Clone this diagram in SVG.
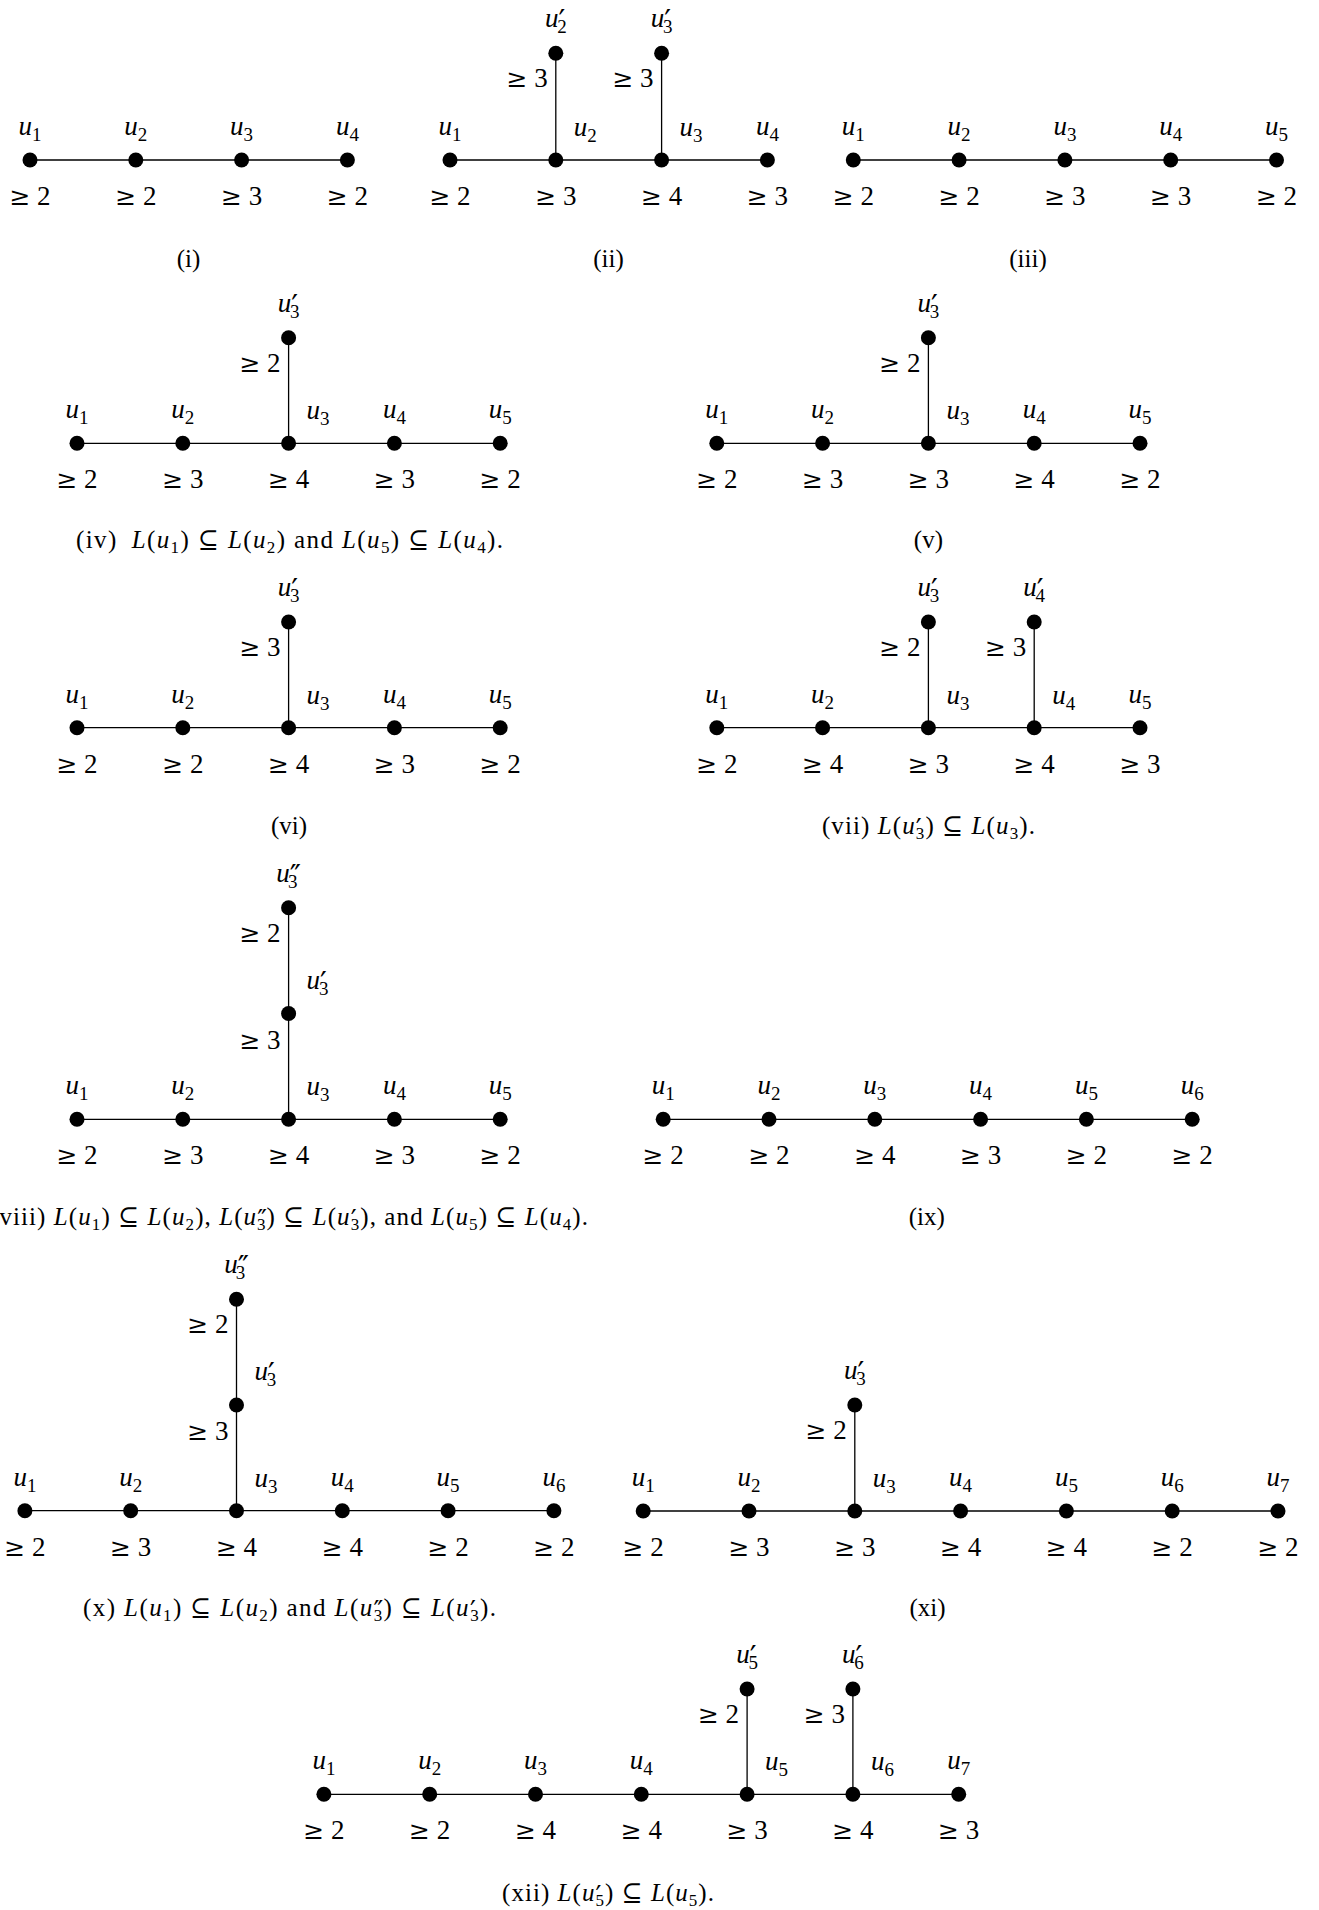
<svg xmlns="http://www.w3.org/2000/svg" width="1319" height="1910" viewBox="0 0 1319 1910">
<style>
.e{stroke:#000;stroke-width:1.3;fill:none}
circle{fill:#000}
text{font-family:"Liberation Serif","DejaVu Serif",serif;fill:#000}
.l{font-size:27px;text-anchor:middle}
.ls{font-size:27px;text-anchor:start}
.le{font-size:27px;text-anchor:end}
.g{font-family:"DejaVu Serif",serif;font-size:25px}
.i{font-style:italic}
.s{font-size:19px}
.p{font-family:"DejaVu Serif",serif;font-size:30px}
.c{font-size:25px;text-anchor:middle}
.cs{font-size:17px}
.cp{font-family:"DejaVu Serif",serif;font-size:26px}
</style>
<rect width="1319" height="1910" fill="#fff"/>
<g id="connectors">
<line class="e" x1="30" y1="160" x2="347.4" y2="160"/>
<line class="e" x1="450" y1="160" x2="767.4" y2="160"/>
<line class="e" x1="555.8" y1="53.3" x2="555.8" y2="160"/>
<line class="e" x1="661.6" y1="53.3" x2="661.6" y2="160"/>
<line class="e" x1="853.3" y1="160" x2="1276.5" y2="160"/>
<line class="e" x1="77" y1="443.3" x2="500.2" y2="443.3"/>
<line class="e" x1="288.6" y1="337.7" x2="288.6" y2="443.3"/>
<line class="e" x1="716.8" y1="443.3" x2="1140" y2="443.3"/>
<line class="e" x1="928.4" y1="337.7" x2="928.4" y2="443.3"/>
<line class="e" x1="77" y1="727.7" x2="500.2" y2="727.7"/>
<line class="e" x1="288.6" y1="622" x2="288.6" y2="727.7"/>
<line class="e" x1="716.8" y1="727.7" x2="1140" y2="727.7"/>
<line class="e" x1="928.4" y1="622" x2="928.4" y2="727.7"/>
<line class="e" x1="1034.2" y1="622" x2="1034.2" y2="727.7"/>
<line class="e" x1="77" y1="1119.3" x2="500.2" y2="1119.3"/>
<line class="e" x1="288.6" y1="907.7" x2="288.6" y2="1119.3"/>
<line class="e" x1="663.2" y1="1119.3" x2="1192.2" y2="1119.3"/>
<line class="e" x1="24.9" y1="1510.7" x2="553.9" y2="1510.7"/>
<line class="e" x1="236.5" y1="1299.3" x2="236.5" y2="1510.7"/>
<line class="e" x1="643.2" y1="1511" x2="1278" y2="1511"/>
<line class="e" x1="854.8" y1="1405" x2="854.8" y2="1511"/>
<line class="e" x1="323.9" y1="1794.3" x2="958.7" y2="1794.3"/>
<line class="e" x1="747.1" y1="1689" x2="747.1" y2="1794.3"/>
<line class="e" x1="852.9" y1="1689" x2="852.9" y2="1794.3"/>
</g>

<g id="i-u1"><circle cx="30" cy="160" r="7.5"/><text class="l" x="30" y="135"><tspan class="i">u</tspan><tspan class="s" dy="6">1</tspan></text><text class="l" x="30" y="205"><tspan class="g">≥</tspan> 2</text></g>
<g id="i-u2"><circle cx="135.8" cy="160" r="7.5"/><text class="l" x="135.8" y="135"><tspan class="i">u</tspan><tspan class="s" dy="6">2</tspan></text><text class="l" x="135.8" y="205"><tspan class="g">≥</tspan> 2</text></g>
<g id="i-u3"><circle cx="241.6" cy="160" r="7.5"/><text class="l" x="241.6" y="135"><tspan class="i">u</tspan><tspan class="s" dy="6">3</tspan></text><text class="l" x="241.6" y="205"><tspan class="g">≥</tspan> 3</text></g>
<g id="i-u4"><circle cx="347.4" cy="160" r="7.5"/><text class="l" x="347.4" y="135"><tspan class="i">u</tspan><tspan class="s" dy="6">4</tspan></text><text class="l" x="347.4" y="205"><tspan class="g">≥</tspan> 2</text></g>

<g id="ii-u1"><circle cx="450" cy="160" r="7.5"/><text class="l" x="450" y="135"><tspan class="i">u</tspan><tspan class="s" dy="6">1</tspan></text><text class="l" x="450" y="205"><tspan class="g">≥</tspan> 2</text></g>
<g id="ii-u2"><circle cx="555.8" cy="160" r="7.5"/><text class="ls" x="573.8" y="136"><tspan class="i">u</tspan><tspan class="s" dy="6">2</tspan></text><text class="l" x="555.8" y="205"><tspan class="g">≥</tspan> 3</text></g>
<g id="ii-u3"><circle cx="661.6" cy="160" r="7.5"/><text class="ls" x="679.6" y="136"><tspan class="i">u</tspan><tspan class="s" dy="6">3</tspan></text><text class="l" x="661.6" y="205"><tspan class="g">≥</tspan> 4</text></g>
<g id="ii-u4"><circle cx="767.4" cy="160" r="7.5"/><text class="l" x="767.4" y="135"><tspan class="i">u</tspan><tspan class="s" dy="6">4</tspan></text><text class="l" x="767.4" y="205"><tspan class="g">≥</tspan> 3</text></g>
<g id="ii-u2p"><circle cx="555.8" cy="53.3" r="7.5"/><text class="l" x="555.8" y="27.3"><tspan class="i">u</tspan><tspan class="p" dy="4">′</tspan><tspan class="s" dx="-8" dy="2">2</tspan></text><text class="le" x="547.8" y="87.3"><tspan class="g">≥</tspan> 3</text></g>
<g id="ii-u3p"><circle cx="661.6" cy="53.3" r="7.5"/><text class="l" x="661.6" y="27.3"><tspan class="i">u</tspan><tspan class="p" dy="4">′</tspan><tspan class="s" dx="-8" dy="2">3</tspan></text><text class="le" x="653.6" y="87.3"><tspan class="g">≥</tspan> 3</text></g>

<g id="iii-u1"><circle cx="853.3" cy="160" r="7.5"/><text class="l" x="853.3" y="135"><tspan class="i">u</tspan><tspan class="s" dy="6">1</tspan></text><text class="l" x="853.3" y="205"><tspan class="g">≥</tspan> 2</text></g>
<g id="iii-u2"><circle cx="959.1" cy="160" r="7.5"/><text class="l" x="959.1" y="135"><tspan class="i">u</tspan><tspan class="s" dy="6">2</tspan></text><text class="l" x="959.1" y="205"><tspan class="g">≥</tspan> 2</text></g>
<g id="iii-u3"><circle cx="1064.9" cy="160" r="7.5"/><text class="l" x="1064.9" y="135"><tspan class="i">u</tspan><tspan class="s" dy="6">3</tspan></text><text class="l" x="1064.9" y="205"><tspan class="g">≥</tspan> 3</text></g>
<g id="iii-u4"><circle cx="1170.7" cy="160" r="7.5"/><text class="l" x="1170.7" y="135"><tspan class="i">u</tspan><tspan class="s" dy="6">4</tspan></text><text class="l" x="1170.7" y="205"><tspan class="g">≥</tspan> 3</text></g>
<g id="iii-u5"><circle cx="1276.5" cy="160" r="7.5"/><text class="l" x="1276.5" y="135"><tspan class="i">u</tspan><tspan class="s" dy="6">5</tspan></text><text class="l" x="1276.5" y="205"><tspan class="g">≥</tspan> 2</text></g>

<g id="iv-u1"><circle cx="77" cy="443.3" r="7.5"/><text class="l" x="77" y="418.3"><tspan class="i">u</tspan><tspan class="s" dy="6">1</tspan></text><text class="l" x="77" y="488.3"><tspan class="g">≥</tspan> 2</text></g>
<g id="iv-u2"><circle cx="182.8" cy="443.3" r="7.5"/><text class="l" x="182.8" y="418.3"><tspan class="i">u</tspan><tspan class="s" dy="6">2</tspan></text><text class="l" x="182.8" y="488.3"><tspan class="g">≥</tspan> 3</text></g>
<g id="iv-u3"><circle cx="288.6" cy="443.3" r="7.5"/><text class="ls" x="306.6" y="419.3"><tspan class="i">u</tspan><tspan class="s" dy="6">3</tspan></text><text class="l" x="288.6" y="488.3"><tspan class="g">≥</tspan> 4</text></g>
<g id="iv-u4"><circle cx="394.4" cy="443.3" r="7.5"/><text class="l" x="394.4" y="418.3"><tspan class="i">u</tspan><tspan class="s" dy="6">4</tspan></text><text class="l" x="394.4" y="488.3"><tspan class="g">≥</tspan> 3</text></g>
<g id="iv-u5"><circle cx="500.2" cy="443.3" r="7.5"/><text class="l" x="500.2" y="418.3"><tspan class="i">u</tspan><tspan class="s" dy="6">5</tspan></text><text class="l" x="500.2" y="488.3"><tspan class="g">≥</tspan> 2</text></g>
<g id="iv-u3p"><circle cx="288.6" cy="337.7" r="7.5"/><text class="l" x="288.6" y="311.7"><tspan class="i">u</tspan><tspan class="p" dy="4">′</tspan><tspan class="s" dx="-8" dy="2">3</tspan></text><text class="le" x="280.6" y="371.7"><tspan class="g">≥</tspan> 2</text></g>

<g id="v-u1"><circle cx="716.8" cy="443.3" r="7.5"/><text class="l" x="716.8" y="418.3"><tspan class="i">u</tspan><tspan class="s" dy="6">1</tspan></text><text class="l" x="716.8" y="488.3"><tspan class="g">≥</tspan> 2</text></g>
<g id="v-u2"><circle cx="822.6" cy="443.3" r="7.5"/><text class="l" x="822.6" y="418.3"><tspan class="i">u</tspan><tspan class="s" dy="6">2</tspan></text><text class="l" x="822.6" y="488.3"><tspan class="g">≥</tspan> 3</text></g>
<g id="v-u3"><circle cx="928.4" cy="443.3" r="7.5"/><text class="ls" x="946.4" y="419.3"><tspan class="i">u</tspan><tspan class="s" dy="6">3</tspan></text><text class="l" x="928.4" y="488.3"><tspan class="g">≥</tspan> 3</text></g>
<g id="v-u4"><circle cx="1034.2" cy="443.3" r="7.5"/><text class="l" x="1034.2" y="418.3"><tspan class="i">u</tspan><tspan class="s" dy="6">4</tspan></text><text class="l" x="1034.2" y="488.3"><tspan class="g">≥</tspan> 4</text></g>
<g id="v-u5"><circle cx="1140" cy="443.3" r="7.5"/><text class="l" x="1140" y="418.3"><tspan class="i">u</tspan><tspan class="s" dy="6">5</tspan></text><text class="l" x="1140" y="488.3"><tspan class="g">≥</tspan> 2</text></g>
<g id="v-u3p"><circle cx="928.4" cy="337.7" r="7.5"/><text class="l" x="928.4" y="311.7"><tspan class="i">u</tspan><tspan class="p" dy="4">′</tspan><tspan class="s" dx="-8" dy="2">3</tspan></text><text class="le" x="920.4" y="371.7"><tspan class="g">≥</tspan> 2</text></g>

<g id="vi-u1"><circle cx="77" cy="727.7" r="7.5"/><text class="l" x="77" y="702.7"><tspan class="i">u</tspan><tspan class="s" dy="6">1</tspan></text><text class="l" x="77" y="772.7"><tspan class="g">≥</tspan> 2</text></g>
<g id="vi-u2"><circle cx="182.8" cy="727.7" r="7.5"/><text class="l" x="182.8" y="702.7"><tspan class="i">u</tspan><tspan class="s" dy="6">2</tspan></text><text class="l" x="182.8" y="772.7"><tspan class="g">≥</tspan> 2</text></g>
<g id="vi-u3"><circle cx="288.6" cy="727.7" r="7.5"/><text class="ls" x="306.6" y="703.7"><tspan class="i">u</tspan><tspan class="s" dy="6">3</tspan></text><text class="l" x="288.6" y="772.7"><tspan class="g">≥</tspan> 4</text></g>
<g id="vi-u4"><circle cx="394.4" cy="727.7" r="7.5"/><text class="l" x="394.4" y="702.7"><tspan class="i">u</tspan><tspan class="s" dy="6">4</tspan></text><text class="l" x="394.4" y="772.7"><tspan class="g">≥</tspan> 3</text></g>
<g id="vi-u5"><circle cx="500.2" cy="727.7" r="7.5"/><text class="l" x="500.2" y="702.7"><tspan class="i">u</tspan><tspan class="s" dy="6">5</tspan></text><text class="l" x="500.2" y="772.7"><tspan class="g">≥</tspan> 2</text></g>
<g id="vi-u3p"><circle cx="288.6" cy="622" r="7.5"/><text class="l" x="288.6" y="596"><tspan class="i">u</tspan><tspan class="p" dy="4">′</tspan><tspan class="s" dx="-8" dy="2">3</tspan></text><text class="le" x="280.6" y="656"><tspan class="g">≥</tspan> 3</text></g>

<g id="vii-u1"><circle cx="716.8" cy="727.7" r="7.5"/><text class="l" x="716.8" y="702.7"><tspan class="i">u</tspan><tspan class="s" dy="6">1</tspan></text><text class="l" x="716.8" y="772.7"><tspan class="g">≥</tspan> 2</text></g>
<g id="vii-u2"><circle cx="822.6" cy="727.7" r="7.5"/><text class="l" x="822.6" y="702.7"><tspan class="i">u</tspan><tspan class="s" dy="6">2</tspan></text><text class="l" x="822.6" y="772.7"><tspan class="g">≥</tspan> 4</text></g>
<g id="vii-u3"><circle cx="928.4" cy="727.7" r="7.5"/><text class="ls" x="946.4" y="703.7"><tspan class="i">u</tspan><tspan class="s" dy="6">3</tspan></text><text class="l" x="928.4" y="772.7"><tspan class="g">≥</tspan> 3</text></g>
<g id="vii-u4"><circle cx="1034.2" cy="727.7" r="7.5"/><text class="ls" x="1052.2" y="703.7"><tspan class="i">u</tspan><tspan class="s" dy="6">4</tspan></text><text class="l" x="1034.2" y="772.7"><tspan class="g">≥</tspan> 4</text></g>
<g id="vii-u5"><circle cx="1140" cy="727.7" r="7.5"/><text class="l" x="1140" y="702.7"><tspan class="i">u</tspan><tspan class="s" dy="6">5</tspan></text><text class="l" x="1140" y="772.7"><tspan class="g">≥</tspan> 3</text></g>
<g id="vii-u3p"><circle cx="928.4" cy="622" r="7.5"/><text class="l" x="928.4" y="596"><tspan class="i">u</tspan><tspan class="p" dy="4">′</tspan><tspan class="s" dx="-8" dy="2">3</tspan></text><text class="le" x="920.4" y="656"><tspan class="g">≥</tspan> 2</text></g>
<g id="vii-u4p"><circle cx="1034.2" cy="622" r="7.5"/><text class="l" x="1034.2" y="596"><tspan class="i">u</tspan><tspan class="p" dy="4">′</tspan><tspan class="s" dx="-8" dy="2">4</tspan></text><text class="le" x="1026.2" y="656"><tspan class="g">≥</tspan> 3</text></g>

<g id="viii-u1"><circle cx="77" cy="1119.3" r="7.5"/><text class="l" x="77" y="1094.3"><tspan class="i">u</tspan><tspan class="s" dy="6">1</tspan></text><text class="l" x="77" y="1164.3"><tspan class="g">≥</tspan> 2</text></g>
<g id="viii-u2"><circle cx="182.8" cy="1119.3" r="7.5"/><text class="l" x="182.8" y="1094.3"><tspan class="i">u</tspan><tspan class="s" dy="6">2</tspan></text><text class="l" x="182.8" y="1164.3"><tspan class="g">≥</tspan> 3</text></g>
<g id="viii-u3"><circle cx="288.6" cy="1119.3" r="7.5"/><text class="ls" x="306.6" y="1095.3"><tspan class="i">u</tspan><tspan class="s" dy="6">3</tspan></text><text class="l" x="288.6" y="1164.3"><tspan class="g">≥</tspan> 4</text></g>
<g id="viii-u4"><circle cx="394.4" cy="1119.3" r="7.5"/><text class="l" x="394.4" y="1094.3"><tspan class="i">u</tspan><tspan class="s" dy="6">4</tspan></text><text class="l" x="394.4" y="1164.3"><tspan class="g">≥</tspan> 3</text></g>
<g id="viii-u5"><circle cx="500.2" cy="1119.3" r="7.5"/><text class="l" x="500.2" y="1094.3"><tspan class="i">u</tspan><tspan class="s" dy="6">5</tspan></text><text class="l" x="500.2" y="1164.3"><tspan class="g">≥</tspan> 2</text></g>
<g id="viii-u3p"><circle cx="288.6" cy="1013.5" r="7.5"/><text class="ls" x="306.6" y="988.5"><tspan class="i">u</tspan><tspan class="p" dy="4">′</tspan><tspan class="s" dx="-8" dy="2">3</tspan></text><text class="le" x="280.6" y="1048.5"><tspan class="g">≥</tspan> 3</text></g>
<g id="viii-u3pp"><circle cx="288.6" cy="907.7" r="7.5"/><text class="l" x="288.6" y="882"><tspan class="i">u</tspan><tspan class="p" dy="4">″</tspan><tspan class="s" dx="-13" dy="2">3</tspan></text><text class="le" x="280.6" y="941.7"><tspan class="g">≥</tspan> 2</text></g>

<g id="ix-u1"><circle cx="663.2" cy="1119.3" r="7.5"/><text class="l" x="663.2" y="1094.3"><tspan class="i">u</tspan><tspan class="s" dy="6">1</tspan></text><text class="l" x="663.2" y="1164.3"><tspan class="g">≥</tspan> 2</text></g>
<g id="ix-u2"><circle cx="769" cy="1119.3" r="7.5"/><text class="l" x="769" y="1094.3"><tspan class="i">u</tspan><tspan class="s" dy="6">2</tspan></text><text class="l" x="769" y="1164.3"><tspan class="g">≥</tspan> 2</text></g>
<g id="ix-u3"><circle cx="874.8" cy="1119.3" r="7.5"/><text class="l" x="874.8" y="1094.3"><tspan class="i">u</tspan><tspan class="s" dy="6">3</tspan></text><text class="l" x="874.8" y="1164.3"><tspan class="g">≥</tspan> 4</text></g>
<g id="ix-u4"><circle cx="980.6" cy="1119.3" r="7.5"/><text class="l" x="980.6" y="1094.3"><tspan class="i">u</tspan><tspan class="s" dy="6">4</tspan></text><text class="l" x="980.6" y="1164.3"><tspan class="g">≥</tspan> 3</text></g>
<g id="ix-u5"><circle cx="1086.4" cy="1119.3" r="7.5"/><text class="l" x="1086.4" y="1094.3"><tspan class="i">u</tspan><tspan class="s" dy="6">5</tspan></text><text class="l" x="1086.4" y="1164.3"><tspan class="g">≥</tspan> 2</text></g>
<g id="ix-u6"><circle cx="1192.2" cy="1119.3" r="7.5"/><text class="l" x="1192.2" y="1094.3"><tspan class="i">u</tspan><tspan class="s" dy="6">6</tspan></text><text class="l" x="1192.2" y="1164.3"><tspan class="g">≥</tspan> 2</text></g>

<g id="x-u1"><circle cx="24.9" cy="1510.7" r="7.5"/><text class="l" x="24.9" y="1485.7"><tspan class="i">u</tspan><tspan class="s" dy="6">1</tspan></text><text class="l" x="24.9" y="1555.7"><tspan class="g">≥</tspan> 2</text></g>
<g id="x-u2"><circle cx="130.7" cy="1510.7" r="7.5"/><text class="l" x="130.7" y="1485.7"><tspan class="i">u</tspan><tspan class="s" dy="6">2</tspan></text><text class="l" x="130.7" y="1555.7"><tspan class="g">≥</tspan> 3</text></g>
<g id="x-u3"><circle cx="236.5" cy="1510.7" r="7.5"/><text class="ls" x="254.5" y="1486.7"><tspan class="i">u</tspan><tspan class="s" dy="6">3</tspan></text><text class="l" x="236.5" y="1555.7"><tspan class="g">≥</tspan> 4</text></g>
<g id="x-u4"><circle cx="342.3" cy="1510.7" r="7.5"/><text class="l" x="342.3" y="1485.7"><tspan class="i">u</tspan><tspan class="s" dy="6">4</tspan></text><text class="l" x="342.3" y="1555.7"><tspan class="g">≥</tspan> 4</text></g>
<g id="x-u5"><circle cx="448.1" cy="1510.7" r="7.5"/><text class="l" x="448.1" y="1485.7"><tspan class="i">u</tspan><tspan class="s" dy="6">5</tspan></text><text class="l" x="448.1" y="1555.7"><tspan class="g">≥</tspan> 2</text></g>
<g id="x-u6"><circle cx="553.9" cy="1510.7" r="7.5"/><text class="l" x="553.9" y="1485.7"><tspan class="i">u</tspan><tspan class="s" dy="6">6</tspan></text><text class="l" x="553.9" y="1555.7"><tspan class="g">≥</tspan> 2</text></g>
<g id="x-u3p"><circle cx="236.5" cy="1405" r="7.5"/><text class="ls" x="254.5" y="1380"><tspan class="i">u</tspan><tspan class="p" dy="4">′</tspan><tspan class="s" dx="-8" dy="2">3</tspan></text><text class="le" x="228.5" y="1440"><tspan class="g">≥</tspan> 3</text></g>
<g id="x-u3pp"><circle cx="236.5" cy="1299.3" r="7.5"/><text class="l" x="236.5" y="1273.3"><tspan class="i">u</tspan><tspan class="p" dy="4">″</tspan><tspan class="s" dx="-13" dy="2">3</tspan></text><text class="le" x="228.5" y="1333.3"><tspan class="g">≥</tspan> 2</text></g>

<g id="xi-u1"><circle cx="643.2" cy="1511" r="7.5"/><text class="l" x="643.2" y="1486"><tspan class="i">u</tspan><tspan class="s" dy="6">1</tspan></text><text class="l" x="643.2" y="1556"><tspan class="g">≥</tspan> 2</text></g>
<g id="xi-u2"><circle cx="749" cy="1511" r="7.5"/><text class="l" x="749" y="1486"><tspan class="i">u</tspan><tspan class="s" dy="6">2</tspan></text><text class="l" x="749" y="1556"><tspan class="g">≥</tspan> 3</text></g>
<g id="xi-u3"><circle cx="854.8" cy="1511" r="7.5"/><text class="ls" x="872.8" y="1487"><tspan class="i">u</tspan><tspan class="s" dy="6">3</tspan></text><text class="l" x="854.8" y="1556"><tspan class="g">≥</tspan> 3</text></g>
<g id="xi-u4"><circle cx="960.6" cy="1511" r="7.5"/><text class="l" x="960.6" y="1486"><tspan class="i">u</tspan><tspan class="s" dy="6">4</tspan></text><text class="l" x="960.6" y="1556"><tspan class="g">≥</tspan> 4</text></g>
<g id="xi-u5"><circle cx="1066.4" cy="1511" r="7.5"/><text class="l" x="1066.4" y="1486"><tspan class="i">u</tspan><tspan class="s" dy="6">5</tspan></text><text class="l" x="1066.4" y="1556"><tspan class="g">≥</tspan> 4</text></g>
<g id="xi-u6"><circle cx="1172.2" cy="1511" r="7.5"/><text class="l" x="1172.2" y="1486"><tspan class="i">u</tspan><tspan class="s" dy="6">6</tspan></text><text class="l" x="1172.2" y="1556"><tspan class="g">≥</tspan> 2</text></g>
<g id="xi-u7"><circle cx="1278" cy="1511" r="7.5"/><text class="l" x="1278" y="1486"><tspan class="i">u</tspan><tspan class="s" dy="6">7</tspan></text><text class="l" x="1278" y="1556"><tspan class="g">≥</tspan> 2</text></g>
<g id="xi-u3p"><circle cx="854.8" cy="1405" r="7.5"/><text class="l" x="854.8" y="1379"><tspan class="i">u</tspan><tspan class="p" dy="4">′</tspan><tspan class="s" dx="-8" dy="2">3</tspan></text><text class="le" x="846.8" y="1439"><tspan class="g">≥</tspan> 2</text></g>

<g id="xii-u1"><circle cx="323.9" cy="1794.3" r="7.5"/><text class="l" x="323.9" y="1769.3"><tspan class="i">u</tspan><tspan class="s" dy="6">1</tspan></text><text class="l" x="323.9" y="1839.3"><tspan class="g">≥</tspan> 2</text></g>
<g id="xii-u2"><circle cx="429.7" cy="1794.3" r="7.5"/><text class="l" x="429.7" y="1769.3"><tspan class="i">u</tspan><tspan class="s" dy="6">2</tspan></text><text class="l" x="429.7" y="1839.3"><tspan class="g">≥</tspan> 2</text></g>
<g id="xii-u3"><circle cx="535.5" cy="1794.3" r="7.5"/><text class="l" x="535.5" y="1769.3"><tspan class="i">u</tspan><tspan class="s" dy="6">3</tspan></text><text class="l" x="535.5" y="1839.3"><tspan class="g">≥</tspan> 4</text></g>
<g id="xii-u4"><circle cx="641.3" cy="1794.3" r="7.5"/><text class="l" x="641.3" y="1769.3"><tspan class="i">u</tspan><tspan class="s" dy="6">4</tspan></text><text class="l" x="641.3" y="1839.3"><tspan class="g">≥</tspan> 4</text></g>
<g id="xii-u5"><circle cx="747.1" cy="1794.3" r="7.5"/><text class="ls" x="765.1" y="1770.3"><tspan class="i">u</tspan><tspan class="s" dy="6">5</tspan></text><text class="l" x="747.1" y="1839.3"><tspan class="g">≥</tspan> 3</text></g>
<g id="xii-u6"><circle cx="852.9" cy="1794.3" r="7.5"/><text class="ls" x="870.9" y="1770.3"><tspan class="i">u</tspan><tspan class="s" dy="6">6</tspan></text><text class="l" x="852.9" y="1839.3"><tspan class="g">≥</tspan> 4</text></g>
<g id="xii-u7"><circle cx="958.7" cy="1794.3" r="7.5"/><text class="l" x="958.7" y="1769.3"><tspan class="i">u</tspan><tspan class="s" dy="6">7</tspan></text><text class="l" x="958.7" y="1839.3"><tspan class="g">≥</tspan> 3</text></g>
<g id="xii-u5p"><circle cx="747.1" cy="1689" r="7.5"/><text class="l" x="747.1" y="1663"><tspan class="i">u</tspan><tspan class="p" dy="4">′</tspan><tspan class="s" dx="-8" dy="2">5</tspan></text><text class="le" x="739.1" y="1723"><tspan class="g">≥</tspan> 2</text></g>
<g id="xii-u6p"><circle cx="852.9" cy="1689" r="7.5"/><text class="l" x="852.9" y="1663"><tspan class="i">u</tspan><tspan class="p" dy="4">′</tspan><tspan class="s" dx="-8" dy="2">6</tspan></text><text class="le" x="844.9" y="1723"><tspan class="g">≥</tspan> 3</text></g>

<g id="captions">
<text class="c" x="188.5" y="267">(i)</text>
<text class="c" x="608.5" y="267">(ii)</text>
<text class="c" x="1028" y="267">(iii)</text>
<text class="c" x="289.5" y="548" textLength="427" lengthAdjust="spacing">(iv)<tspan class="i" dx="14">L</tspan>(<tspan class="i">u</tspan><tspan class="cs" dy="5">1</tspan><tspan dy="-5">) ⊆ </tspan><tspan class="i">L</tspan>(<tspan class="i">u</tspan><tspan class="cs" dy="5">2</tspan><tspan dy="-5">) and </tspan><tspan class="i">L</tspan>(<tspan class="i">u</tspan><tspan class="cs" dy="5">5</tspan><tspan dy="-5">) ⊆ </tspan><tspan class="i">L</tspan>(<tspan class="i">u</tspan><tspan class="cs" dy="5">4</tspan><tspan dy="-5">).</tspan></text>
<text class="c" x="928.4" y="548">(v)</text>
<text class="c" x="289" y="834">(vi)</text>
<text class="c" x="928.4" y="834" textLength="213" lengthAdjust="spacing">(vii) <tspan class="i">L</tspan>(<tspan class="i">u</tspan><tspan class="cp" dy="3">′</tspan><tspan class="cs" dx="-7" dy="2">3</tspan><tspan dy="-5">) ⊆ </tspan><tspan class="i">L</tspan>(<tspan class="i">u</tspan><tspan class="cs" dy="5">3</tspan><tspan dy="-5">).</tspan></text>
<text class="c" x="289" y="1225" textLength="598" lengthAdjust="spacing">(viii) <tspan class="i">L</tspan>(<tspan class="i">u</tspan><tspan class="cs" dy="5">1</tspan><tspan dy="-5">) ⊆ </tspan><tspan class="i">L</tspan>(<tspan class="i">u</tspan><tspan class="cs" dy="5">2</tspan><tspan dy="-5">), </tspan><tspan class="i">L</tspan>(<tspan class="i">u</tspan><tspan class="cp" dy="3">″</tspan><tspan class="cs" dx="-11" dy="2">3</tspan><tspan dy="-5">) ⊆ </tspan><tspan class="i">L</tspan>(<tspan class="i">u</tspan><tspan class="cp" dy="3">′</tspan><tspan class="cs" dx="-7" dy="2">3</tspan><tspan dy="-5">), and </tspan><tspan class="i">L</tspan>(<tspan class="i">u</tspan><tspan class="cs" dy="5">5</tspan><tspan dy="-5">) ⊆ </tspan><tspan class="i">L</tspan>(<tspan class="i">u</tspan><tspan class="cs" dy="5">4</tspan><tspan dy="-5">).</tspan></text>
<text class="c" x="926.7" y="1225">(ix)</text>
<text class="c" x="289.6" y="1616" textLength="413" lengthAdjust="spacing">(x) <tspan class="i">L</tspan>(<tspan class="i">u</tspan><tspan class="cs" dy="5">1</tspan><tspan dy="-5">) ⊆ </tspan><tspan class="i">L</tspan>(<tspan class="i">u</tspan><tspan class="cs" dy="5">2</tspan><tspan dy="-5">) and </tspan><tspan class="i">L</tspan>(<tspan class="i">u</tspan><tspan class="cp" dy="3">″</tspan><tspan class="cs" dx="-11" dy="2">3</tspan><tspan dy="-5">) ⊆ </tspan><tspan class="i">L</tspan>(<tspan class="i">u</tspan><tspan class="cp" dy="3">′</tspan><tspan class="cs" dx="-7" dy="2">3</tspan><tspan dy="-5">).</tspan></text>
<text class="c" x="927.6" y="1616">(xi)</text>
<text class="c" x="608" y="1901" textLength="212" lengthAdjust="spacing">(xii) <tspan class="i">L</tspan>(<tspan class="i">u</tspan><tspan class="cp" dy="3">′</tspan><tspan class="cs" dx="-7" dy="2">5</tspan><tspan dy="-5">) ⊆ </tspan><tspan class="i">L</tspan>(<tspan class="i">u</tspan><tspan class="cs" dy="5">5</tspan><tspan dy="-5">).</tspan></text>
</g>
</svg>
